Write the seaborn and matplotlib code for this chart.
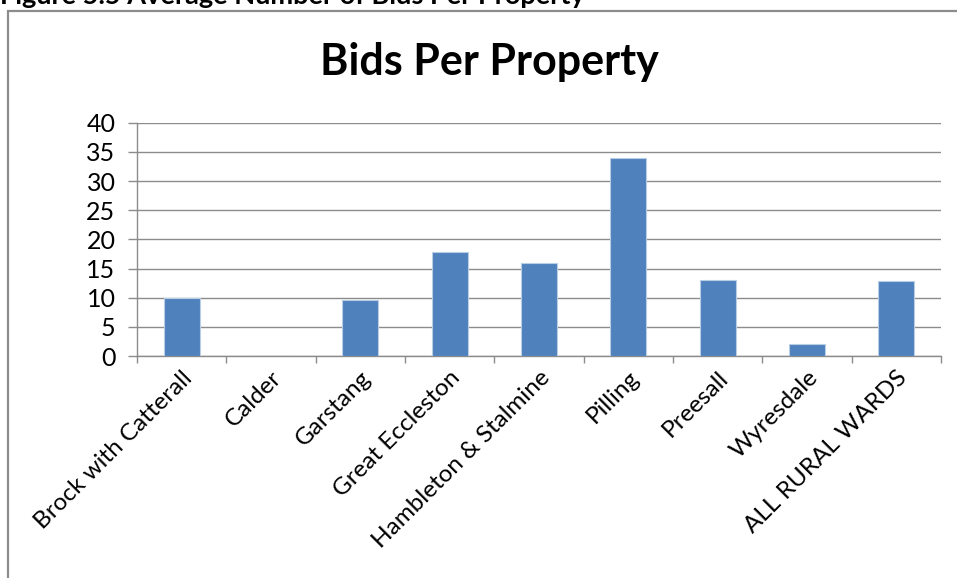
import matplotlib
matplotlib.use("Agg")
import matplotlib.pyplot as plt
import matplotlib.patches as patches
from matplotlib.ticker import FixedLocator, MultipleLocator
import seaborn as sns

# data
wards = ['Brock with Catterall', 'Calder', 'Garstang', 'Great Eccleston',
         'Hambleton & Stalmine', 'Pilling', 'Preesall', 'Wyresdale', 'ALL RURAL WARDS']
bids = [10, 0, 9.6, 17.9, 15.9, 34, 13, 2.1, 12.9]

sns.set_style('white')
plt.rcParams['font.family'] = ['Lato', 'DejaVu Sans']
plt.rcParams['text.color'] = 'black'
plt.rcParams['xtick.labelcolor'] = 'black'
plt.rcParams['ytick.labelcolor'] = 'black'

fig = plt.figure(figsize=(9.57, 5.78), dpi=100)
ax = fig.add_axes([137/957, 1 - 356/578, 804/957, (356 - 122.7)/578])

sns.barplot(x=wards, y=bids, color='#4F81BD', width=0.4, saturation=1,
            edgecolor='#B9CDE5', linewidth=0.8, ax=ax, zorder=3)

ax.set_xlim(-0.5, 8.5)
ax.set_ylim(0, 40)
ax.yaxis.set_major_locator(MultipleLocator(5))
ax.grid(axis='y', color='#8C8C8C', linewidth=1.0, zorder=0)
ax.set_axisbelow(True)

for s in ['top', 'right']:
    ax.spines[s].set_visible(False)
for s in ['left', 'bottom']:
    ax.spines[s].set_color('#8C8C8C')
    ax.spines[s].set_linewidth(1.0)

ax.tick_params(axis='y', direction='out', length=6.5, width=1, color='#8C8C8C',
               labelsize=18, pad=9, left=True)
ax.tick_params(axis='x', which='major', length=0, labelsize=17.5, pad=8)
ax.xaxis.set_minor_locator(FixedLocator([i - 0.5 for i in range(len(wards) + 1)]))
ax.tick_params(axis='x', which='minor', direction='out', length=5, width=1,
               color='#8C8C8C', bottom=True)
plt.setp(ax.get_xticklabels(), rotation=45, ha='right', rotation_mode='anchor')
ax.set_xlabel('')
ax.set_ylabel('')

fig.text(489/957, 1 - 62/578, 'Bids Per Property', ha='center', va='center',
         fontsize=31, fontweight='bold')

# chart frame (open to the right and bottom) and the cut-off caption above it
fig.patches.append(patches.Rectangle((8/957, -0.05), 1.0, 1.05 - 11/578,
                                     transform=fig.transFigure, fill=False,
                                     edgecolor='#8C8C8C', linewidth=1.6))
fig.text(0.0, 1 - 4/578, 'Figure 5.5 Average Number of Bids Per Property',
         ha='left', va='baseline', fontsize=19.5, fontweight='bold')

fig.savefig('out.png', dpi=100)
